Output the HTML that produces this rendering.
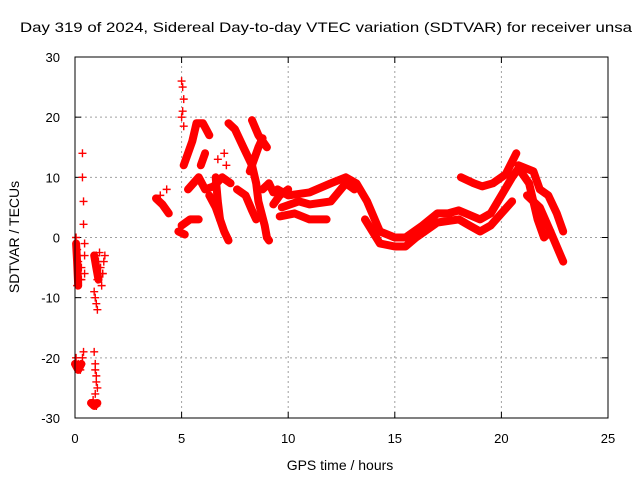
<!DOCTYPE html>
<html><head><meta charset="utf-8"><style>
html,body{margin:0;padding:0;background:#fff;}
svg{display:block;font-family:"Liberation Sans",sans-serif;}
</style></head><body>
<svg id="chart" width="640" height="480" viewBox="0 0 640 480" xmlns="http://www.w3.org/2000/svg">
<rect x="0" y="0" width="640" height="480" fill="#fff"/>
<text x="326" y="32" font-size="14" text-anchor="middle" textLength="612" lengthAdjust="spacingAndGlyphs">Day 319 of 2024, Sidereal Day-to-day VTEC variation (SDTVAR) for receiver unsa</text>
<g id="grid"></g>
<g id="ticks"></g>
<g id="series"></g>
<rect x="75" y="57" width="533" height="361" fill="none" stroke="#000" stroke-width="1"/>
<text x="340" y="470" font-size="14" text-anchor="middle">GPS time / hours</text>
<text transform="translate(19,237) rotate(-90)" font-size="14" text-anchor="middle">SDTVAR / TECUs</text>
</svg>
<script>
const xTicks=[0,5,10,15,20,25];
const yTicks=[-30,-20,-10,0,10,20,30];
// dense tracks: hours and values
const trackHours=[
 [9.5,10,11,12,12.7,13.2,13.7,14.3,15,15.5,16.3,17,17.5,18,19,19.5,20,20.5,20.8,21.3,21.7,22,22.3],
 [9.7,10.5,11,12,12.7,13.1],
 [9.6,10.3,11,11.8],
 [13.6,14.3,15,15.5,16,17,18,18.5,19,19.5,20,20.5],
 [18.1,18.7,19.1,19.6,20.2,20.7],
 [20.8,21.5,21.8,22.2,22.6,22.9],
 [21.2,21.8,22.3,22.9],
 [5.1,5.5,5.7,6.0,6.3],
 [5.3,5.8,6.1,6.5,6.9,7.3],
 [5.0,5.4,5.8],
 [7.2,7.5,7.9,8.3,8.5,8.6,8.9,9.0,9.1],
 [8.3,8.6,9.0],
 [8.2,8.6,8.8],
 [7.6,8.0,8.3,8.5],
 [6.3,6.6,6.8,7.0,7.2],
 [6.6,6.7,6.8],
 [5.9,6.1],
 [8.8,9.1,9.3],
 [9.3,9.6,10.0],
 [3.8,4.1,4.4],
 [4.85,5.15],
 [0.05,0.1,0.15],
 [0.9,1.0,1.1],
 [0.0,0.15,0.3],
 [0.75,0.9,1.05]
];
const trackValues=[
 [8,7,7.5,9,10,9,6,1,0,0,2,4,4,4.5,3,4,7,10,11.5,9,3,0,1],
 [5,6,5.5,6,9,8],
 [3.5,4,3,3],
 [3,-1,-1.5,-1.5,0,2.5,3,2,1,2,4,6],
 [10,9,8.5,9,10.5,14],
 [12,11,8,7,4,1],
 [7,5,1,-4],
 [12,16,19,19,17],
 [8,10,8,8.5,10,9],
 [2,3,3],
 [19,18,15,12,9,6,2,0,-0.5],
 [19.5,17,15],
 [11,15,16.5],
 [8,7,4.5,3],
 [7,5,3,1,-0.5],
 [10,6,3],
 [12,14],
 [8,9,7.5],
 [5.5,7,8],
 [6.5,5.5,4],
 [1,0.5],
 [-1,-4,-8],
 [-3,-5,-7],
 [-21,-22,-21],
 [-27.5,-28,-27.5]
];
// sparse points
const ptHours=[0.35,0.35,0.4,0.4,0.45,0.45,0.45,0.05,0.1,0.15,0.2,0.1,0.25,0.3,1.0,1.1,1.2,1.3,1.4,1.05,1.25,0.9,0.95,1.0,1.05,0.05,0.15,0.25,0.3,0.4,0.35,0.9,0.95,1.0,1.05,0.85,1.0,0.8,0.95,5.0,5.05,5.1,5.05,5.0,5.1,4.3,4.0,6.7,7.0,7.1,1.35,1.15,1.3,0.2,0.3,0.95,1.0];
const ptValues=[14,10,6,2.2,-1,-3,-6,0,-2,-4,-6,-8,-7,-5,-3,-4,-5,-6,-3,-7,-8,-9,-10,-11,-12,-20,-21,-22,-21,-19,-20,-19,-21,-23,-25,-27,-28,-27.5,-26,26,25,23,21,20,18.5,8,7,13,14,12,-4,-2.5,-6,-3,-7,-22,-24];
const X0=75,X1=608,Y0=418,Y1=57;
const sx=h=>X0+(h-0)/25*(X1-X0);
const sy=v=>Y0-(v+30)/60*(Y0-Y1);
const NS="http://www.w3.org/2000/svg";
const grid=document.getElementById('grid'),ticks=document.getElementById('ticks'),series=document.getElementById('series');
function mk(tag,attrs,parent){const e=document.createElementNS(NS,tag);for(const k in attrs)e.setAttribute(k,attrs[k]);parent.appendChild(e);return e;}
xTicks.forEach(t=>{const x=sx(t);
 if(t>0&&t<25){const l=mk('line',{x1:x,y1:Y0,x2:x,y2:Y1,stroke:'#a0a0a0','stroke-dasharray':'2,3'},grid);
 
 }
 mk('line',{x1:x,y1:Y0,x2:x,y2:Y0-6,stroke:'#000'},ticks);
 mk('line',{x1:x,y1:Y1,x2:x,y2:Y1+6,stroke:'#000'},ticks);
 const tx=mk('text',{x:x,y:443,'font-size':13,'text-anchor':'middle'},ticks);tx.textContent=t;
 
 
});
yTicks.forEach(t=>{const y=sy(t);
 if(t>-30&&t<30){const l=mk('line',{x1:X0,y1:y,x2:X1,y2:y,stroke:'#a0a0a0','stroke-dasharray':'2,3'},grid);
 
 }
 mk('line',{x1:X0,y1:y,x2:X0+6,y2:y,stroke:'#000'},ticks);
 mk('line',{x1:X1,y1:y,x2:X1-6,y2:y,stroke:'#000'},ticks);
 const tx=mk('text',{x:60,y:y+5,'font-size':13,'text-anchor':'end'},ticks);tx.textContent=t;
 
 
});
trackHours.forEach((hs,i)=>{const vs=trackValues[i];
 const pts=hs.map((h,j)=>sx(h).toFixed(1)+','+sy(vs[j]).toFixed(1)).join(' ');
 const p=mk('polyline',{points:pts,fill:'none',stroke:'#ff0000','stroke-width':8,'stroke-linejoin':'round','stroke-linecap':'round'},series);
 
 
});
ptHours.forEach((h,i)=>{const x=sx(h),y=sy(ptValues[i]);
 const p=mk('path',{d:`M${x-4},${y}H${x+4}M${x},${y-4}V${y+4}`,stroke:'#ff0000','stroke-width':1.4},series);
 
 
});
</script>
</body></html>
